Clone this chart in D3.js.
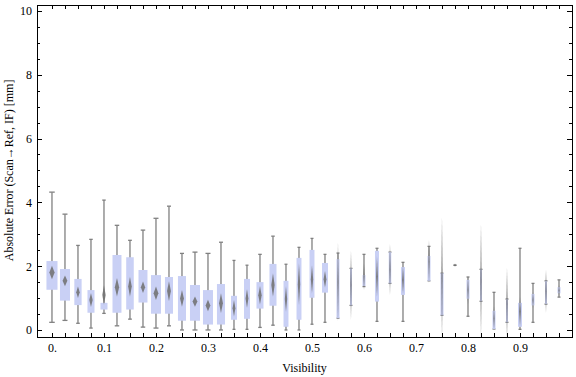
<!doctype html>
<html>
<head>
  <style type="text/css">
    body { margin: 0; background: #fff; }
    svg { display: block; }
    text { font-family: "Liberation Serif", "Times New Roman", serif; font-size: 12px; fill: #000; }
    .axis path, .axis line { fill: none; stroke: #000; shape-rendering: crispEdges; }
    .whisker { stroke: #808080; stroke-width: 1.3; fill: none; }
    .box { fill: #c9d0f5; }
    .diamond { fill: #6e6e6e; fill-opacity: 0.85; }
  </style>
  <title>Absolute Error vs Visibility</title>
</head>
<body>
<svg class="chart"></svg>

<script type="text/javascript" src="https://cdnjs.cloudflare.com/ajax/libs/d3/7.8.5/d3.min.js"></script>
<script type="text/javascript">

// bins of visibility (box centres)
var visibility = [0, 0.025, 0.05, 0.075, 0.1, 0.125, 0.15, 0.175, 0.2, 0.225,
                  0.25, 0.275, 0.3, 0.325, 0.35, 0.375, 0.4, 0.425, 0.45, 0.475,
                  0.5, 0.525, 0.55, 0.575, 0.6, 0.625, 0.65, 0.675, 0.7, 0.725,
                  0.75, 0.775, 0.8, 0.825, 0.85, 0.875, 0.9, 0.925, 0.95, 0.975];

// whisker / box quartiles [mm], null = empty bin
var whiskerLo = [0.24, 0.30, 0.21, 0.06, 0.52, 0.13, 0.34, 0.09, 0.06, 0.13,
                 0.00, 0.00, 0.00, 0.00, 0.02, 0.02, 0.08, 0.15, 0.00, 0.00,
                 0.18, 0.24, 0.37, 0.77, 1.36, 0.27, 1.46, 0.27, null, 1.54,
                 0.46, 2.03, 0.43, 0.90, 0.03, 0.24, 0.02, 0.24, 0.81, 1.03];
var q1        = [1.26, 0.92, 0.78, 0.54, 0.64, 0.54, 0.64, 0.86, 0.51, 0.51,
                 0.29, 0.29, 0.17, 0.17, 0.32, 0.35, 0.67, 0.76, 0.10, 0.32,
                 1.01, 1.17, 0.37, 0.77, 1.38, 0.89, 1.46, 1.10, null, 1.54,
                 0.46, 2.03, 0.98, 0.90, 0.03, 0.24, 0.10, 0.77, 0.81, 1.15];
var q3        = [2.16, 1.91, 1.60, 1.25, 0.85, 2.35, 2.28, 1.88, 1.72, 1.66,
                 1.69, 1.41, 1.25, 1.44, 1.07, 1.60, 1.50, 2.07, 1.54, 2.26,
                 2.51, 2.10, 2.22, 1.93, 1.72, 2.48, 2.44, 1.97, null, 2.32,
                 1.78, 2.03, 1.57, 1.90, 0.60, 0.97, 0.85, 1.13, 1.54, 1.34];
var whiskerHi = [4.32, 3.63, 2.65, 2.84, 4.07, 3.28, 2.81, 3.13, 3.50, 3.88,
                 2.40, 2.44, 2.40, 2.75, 2.18, 2.03, 2.37, 2.94, 2.06, 2.59,
                 2.87, 2.37, 2.41, 1.93, 2.37, 2.56, 2.44, 2.12, null, 2.62,
                 1.78, 2.03, 1.66, 1.90, 1.18, 0.97, 2.56, 1.46, 1.54, 1.57];

// mean and its confidence half-width (diamond)
var meanErr   = [1.80, 1.54, 1.18, 0.94, 1.10, 1.34, 1.36, 1.34, 1.15, 1.22,
                 0.99, 0.89, 0.77, 0.84, 0.68, 0.99, 1.09, 1.41, 0.97, 1.43,
                 1.59, 1.59, 1.50, 1.41, 1.67, 1.67, 1.90, 1.57, null, 2.14,
                 1.62, 2.03, 1.25, 1.54, 0.37, 0.83, 0.57, 0.94, 1.22, 1.24];
var meanCI    = [0.21, 0.17, 0.18, 0.22, 0.30, 0.29, 0.31, 0.18, 0.21, 0.31,
                 0.26, 0.16, 0.18, 0.31, 0.26, 0.29, 0.29, 0.37, 0.39, 0.65,
                 0.44, 0.26, 1.24, 1.09, 0.42, 0.63, 0.80, 0.44, null, 0.67,
                 1.93, 0.05, 0.44, 1.80, 0.37, 1.13, 0.47, 0.26, 0.68, 0.16];

// relative box width (fraction of the bin spacing), grows with sample count
var relWidth  = [0.85, 0.77, 0.56, 0.54, 0.54, 0.69, 0.58, 0.69, 0.77, 0.62,
                 0.62, 0.77, 0.77, 0.62, 0.46, 0.46, 0.54, 0.54, 0.38, 0.38,
                 0.38, 0.46, 0.23, 0.15, 0.23, 0.31, 0.19, 0.31, 0, 0.23,
                 0.23, 0.23, 0.23, 0.15, 0.23, 0.15, 0.31, 0.23, 0.15, 0.23];

var xLabelTicks = [0, 0.1, 0.2, 0.3, 0.4, 0.5, 0.6, 0.7, 0.8, 0.9];
var yMajorTicks = [0, 2, 4, 6, 8, 10];
var yMinorTicks = [0.5, 1, 1.5, 2.5, 3, 3.5, 4.5, 5, 5.5, 6.5, 7, 7.5, 8.5, 9, 9.5];

var outerWidth = 576,
    outerHeight = 377,
    margin = { top: 4.5, right: 4, bottom: 40, left: 37 },
    w = outerWidth - margin.left - margin.right,
    h = outerHeight - margin.top - margin.bottom;

var svg = d3.select(".chart")
  .attr("width", outerWidth)
  .attr("height", outerHeight);

svg.append("defs").append("filter")
  .attr("id", "soft")
  .attr("x", "-50%").attr("y", "-20%").attr("width", "200%").attr("height", "140%")
  .append("feGaussianBlur").attr("stdDeviation", 0.6);

var chart = svg.append("g")
  .attr("transform", "translate(" + margin.left + "," + margin.top + ")");

var xScale = d3.scaleLinear().domain([-0.0288, 1.0]).range([0, w]);
var yScale = d3.scaleLinear().domain([-0.22, 10.2]).range([h, 0]);

var rows = visibility.map(function(v, i) {
  return { x: v, lo: whiskerLo[i], q1: q1[i], q3: q3[i], hi: whiskerHi[i],
           mean: meanErr[i], ci: meanCI[i], rw: relWidth[i] };
}).filter(function(d) { return d.lo !== null; });

var step = xScale(0.025) - xScale(0);

// axes (frame with inward ticks)
var fmt = function(d) { return d === 0 ? "0." : d3.format(".1f")(d); };

chart.append("g")
  .attr("class", "axis x-axis")
  .attr("transform", "translate(0," + h + ")")
  .call(d3.axisBottom(xScale)
    .tickValues(visibility)
    .tickSizeInner(-4).tickSizeOuter(0)
    .tickPadding(6)
    .tickFormat(function(d) { return xLabelTicks.indexOf(d) >= 0 ? fmt(d) : ""; }));

chart.append("g")
  .attr("class", "axis")
  .call(d3.axisTop(xScale)
    .tickValues(visibility)
    .tickSizeInner(-4).tickSizeOuter(0)
    .tickFormat(""));

chart.append("g")
  .attr("class", "axis y-axis")
  .call(d3.axisLeft(yScale)
    .tickValues(yMajorTicks)
    .tickSizeInner(-5).tickSizeOuter(0)
    .tickPadding(5)
    .tickFormat(d3.format("d")));

chart.append("g")
  .attr("class", "axis")
  .call(d3.axisLeft(yScale)
    .tickValues(yMinorTicks)
    .tickSizeInner(-3).tickSizeOuter(0)
    .tickFormat(""))
  .select(".domain").remove();

chart.append("g")
  .attr("class", "axis")
  .attr("transform", "translate(" + w + ",0)")
  .call(d3.axisRight(yScale)
    .tickValues(yMajorTicks)
    .tickSizeInner(-5).tickSizeOuter(0)
    .tickFormat(""));

chart.append("g")
  .attr("class", "axis")
  .attr("transform", "translate(" + w + ",0)")
  .call(d3.axisRight(yScale)
    .tickValues(yMinorTicks)
    .tickSizeInner(-3).tickSizeOuter(0)
    .tickFormat(""))
  .select(".domain").remove();

chart.selectAll(".axis text").style("font-size", "12px").style("font-family", "'Liberation Serif', serif");

// boxes
var groups = chart.append("g").attr("class", "boxes")
  .selectAll("g")
  .data(rows)
  .enter().append("g")
  .attr("transform", function(d) { return "translate(" + xScale(d.x) + ",0)"; });

groups.append("line")
  .attr("class", "whisker")
  .attr("x1", 0).attr("x2", 0)
  .attr("y1", function(d) { return yScale(d.lo); })
  .attr("y2", function(d) { return yScale(d.hi); });

groups.each(function(d) {
  var cap = Math.max(d.rw * step * 0.5, 3);
  var g = d3.select(this);
  [d.lo, d.hi].forEach(function(v) {
    g.append("line")
      .attr("class", "whisker")
      .attr("x1", -cap / 2).attr("x2", cap / 2)
      .attr("y1", yScale(v)).attr("y2", yScale(v));
  });
});

groups.append("rect")
  .attr("class", "box")
  .attr("x", function(d) { return -d.rw * step / 2; })
  .attr("width", function(d) { return d.rw * step; })
  .attr("y", function(d) { return yScale(d.q3); })
  .attr("height", function(d) { return Math.max(yScale(d.q1) - yScale(d.q3), 0); });

groups.append("path")
  .attr("class", "diamond")
  .attr("filter", "url(#soft)")
  .attr("d", function(d) {
    var hw = Math.max(d.rw * step * 0.24, 0.7),
        cy = yScale(d.mean),
        top = yScale(d.mean + d.ci),
        bot = yScale(d.mean - d.ci);
    return "M0," + top + "L" + hw + "," + cy + "L0," + bot + "L" + (-hw) + "," + cy + "Z";
  });

// axis titles
chart.append("text")
  .attr("x", w / 2)
  .attr("y", h + 35)
  .attr("text-anchor", "middle")
  .text("Visibility");

chart.append("text")
  .attr("transform", "translate(" + (-24) + "," + (yScale(5) - 0) + ") rotate(-90)")
  .attr("text-anchor", "middle")
  .text("Absolute Error (Scan\u2192Ref, IF) [mm]");

</script>
</body>
</html>
